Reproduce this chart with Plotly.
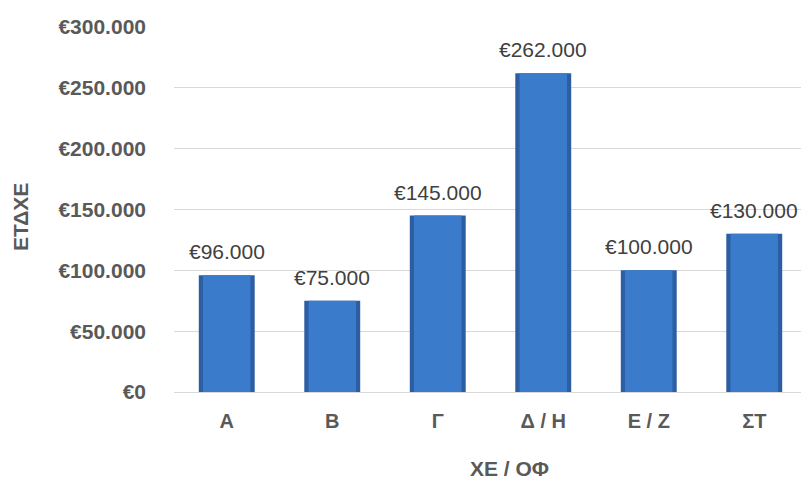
import plotly.graph_objects as go

categories = ["Α", "Β", "Γ", "Δ / Η", "Ε / Ζ", "ΣΤ"]
values = [96000, 75000, 145000, 262000, 100000, 130000]
value_labels = ["€96.000", "€75.000", "€145.000", "€262.000", "€100.000", "€130.000"]
y_ticks = [0, 50000, 100000, 150000, 200000, 250000, 300000]
y_tick_labels = ["€0", "€50.000", "€100.000", "€150.000", "€200.000", "€250.000", "€300.000"]

FONT = "Liberation Sans, Arial"
GRAY = "#595959"

# page is offset by 8px body margin
W, H = 801, 474
L, R, T, B = 166, 2, 19, 90
PW, PH = W - L - R, H - T - B

fig = go.Figure()
fig.add_trace(go.Bar(
    x=categories, y=values, width=0.53,
    marker=dict(color="#2C5EA3", line=dict(width=0)),
    hoverinfo="skip",
))
fig.add_trace(go.Bar(
    x=categories, y=values, width=0.45,
    marker=dict(color="#3B7BCB", line=dict(width=0)),
    hoverinfo="skip",
))

annotations = []
for c, v, lab in zip(categories, values, value_labels):
    annotations.append(dict(
        x=c, y=v, xref="x", yref="y", text=lab, showarrow=False,
        yanchor="bottom", yshift=10,
        font=dict(family=FONT, size=21, color="#404040"),
    ))
annotations.append(dict(
    text="<b>ΕΤΔΧΕ</b>", x=(12 - L) / PW, y=(H - B - 209) / PH, xref="paper", yref="paper",
    xanchor="center", yanchor="middle", textangle=-90, showarrow=False,
    font=dict(size=21, color=GRAY, family=FONT)))
annotations.append(dict(
    text="<b>ΧΕ / ΟΦ</b>", x=(501 - L) / PW, y=(H - B - 460) / PH, xref="paper", yref="paper",
    xanchor="center", yanchor="middle", showarrow=False,
    font=dict(size=21, color=GRAY, family=FONT)))

fig.update_layout(
    width=W, height=H,
    margin=dict(l=L, r=R, t=T, b=B, autoexpand=False),
    plot_bgcolor="white", paper_bgcolor="white",
    barmode="overlay",
    showlegend=False,
    font=dict(family=FONT, color=GRAY),
    annotations=annotations,
)
fig.update_yaxes(
    range=[0, 300000], tickvals=y_ticks, ticktext=y_tick_labels, automargin=False,
    showgrid=True, gridcolor="#D9D9D9", gridwidth=1, zeroline=False,
    tickfont=dict(size=21, color=GRAY, family=FONT, weight="bold"),
    ticklabelstandoff=27,
)
fig.update_xaxes(
    showline=True, linecolor="#D9D9D9", linewidth=1, automargin=False,
    tickfont=dict(size=20, color=GRAY, family=FONT, weight="bold"),
    ticklabelstandoff=11,
)
fig.write_html("out.html")
